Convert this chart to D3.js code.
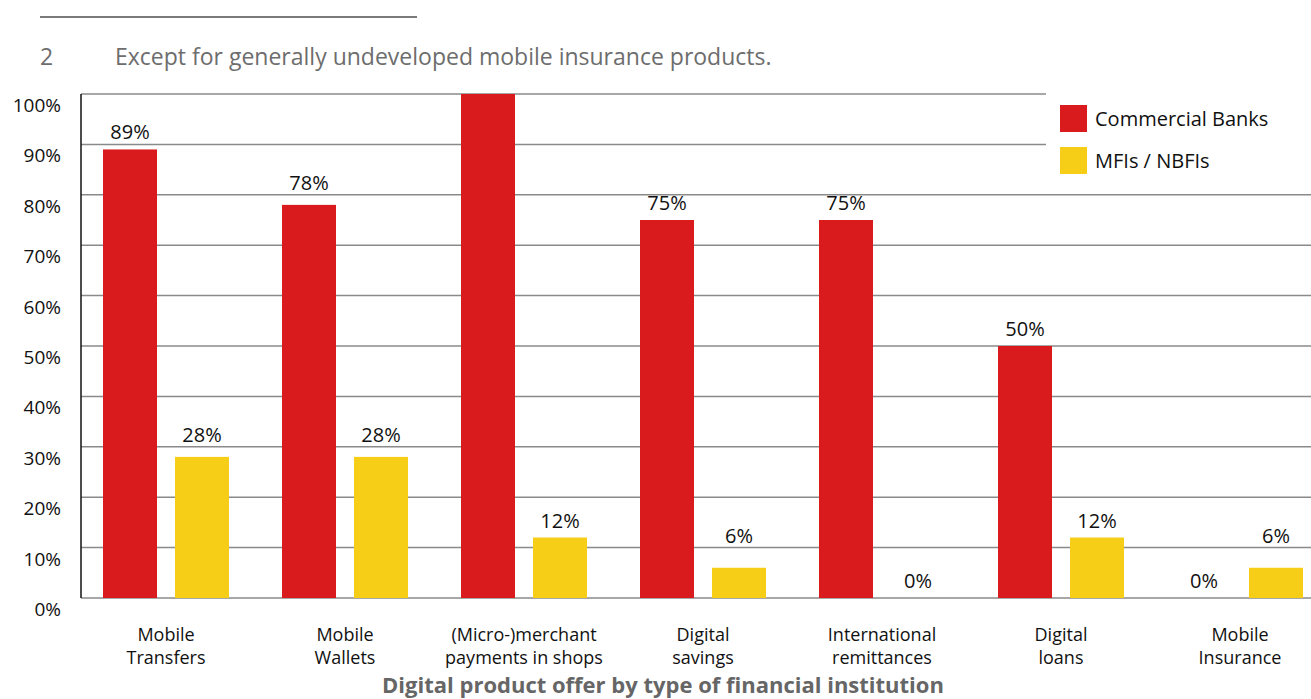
<!DOCTYPE html>
<html>
<head>
<meta charset="utf-8">
<script src="https://cdn.jsdelivr.net/npm/d3@7"></script>
<style>
  body { margin: 0; background: #fff; }
  svg { display: block; font-family: "Open Sans", sans-serif; }
</style>
</head>
<body>
<div id="chart"></div>
<script>
// categories (two-line labels) and series values in percent
var categories = [
  ["Mobile", "Transfers"],
  ["Mobile", "Wallets"],
  ["(Micro-)merchant", "payments in shops"],
  ["Digital", "savings"],
  ["International", "remittances"],
  ["Digital", "loans"],
  ["Mobile", "Insurance"]
];
var seriesNames = ["Commercial Banks", "MFIs / NBFIs"];
var banks = [89, 78, 100, 75, 75, 50, 0];
var mfis = [28, 28, 12, 6, 0, 12, 6];
var yTicks = [0, 10, 20, 30, 40, 50, 60, 70, 80, 90, 100];
var footNumber = "2";
var footText = "Except for generally undeveloped mobile insurance products.";
var chartTitle = "Digital product offer by type of financial institution";

var colors = ["#d91b1e", "#f6cd17"];
var W = 1311, H = 699;

var svg = d3.select("#chart").append("svg")
  .attr("width", W).attr("height", H);

// footnote rule and text
svg.append("line")
  .attr("x1", 40).attr("x2", 417).attr("y1", 17).attr("y2", 17)
  .style("stroke", "#7a7a7a").style("stroke-width", 2);
svg.append("text").attr("x", 40).attr("y", 65)
  .style("font-size", "23px").style("fill", "#6d6d6d").text(footNumber);
svg.append("text").attr("x", 115).attr("y", 65)
  .style("font-size", "23px").style("fill", "#6d6d6d").text(footText);

var keys = categories.map(function(c) { return c.join(" "); });
var data = keys.map(function(k, i) {
  return { key: k, lines: categories[i], values: [banks[i], mfis[i]] };
});

var x0 = d3.scaleBand().domain(keys).range([76.5, 76.5 + 179 * keys.length]);
var x1 = d3.scaleBand().domain([0, 1]).range([26.5, 152.5]).paddingInner(0.25);
var y = d3.scaleLinear().domain([0, 100]).range([598, 94]);

// gridlines
svg.append("g").selectAll("line")
  .data(yTicks)
  .enter().append("line")
  .attr("x1", 81).attr("x2", W)
  .attr("y1", function(d) { return y(d); })
  .attr("y2", function(d) { return y(d); })
  .style("stroke", "#8a8a8a").style("stroke-width", 1.5);

// y axis labels (sit a little below their gridline, like the original)
var yAxis = svg.append("g")
  .attr("transform", "translate(81,0)")
  .call(d3.axisLeft(y).tickValues(yTicks).tickSize(0).tickPadding(20)
    .tickFormat(function(d) { return d + "%"; }));
yAxis.select(".domain").remove();
yAxis.selectAll("text")
  .attr("dy", "0.92em")
  .style("font-family", "'Open Sans', sans-serif")
  .style("font-size", "19px").style("fill", "#111");

svg.append("line")
  .attr("x1", 81).attr("x2", 81).attr("y1", y(100)).attr("y2", y(0))
  .style("stroke", "#111").style("stroke-width", 1.5);

// bars
var group = svg.append("g").selectAll("g")
  .data(data)
  .enter().append("g")
  .attr("transform", function(d) { return "translate(" + x0(d.key) + ",0)"; });

group.selectAll("rect")
  .data(function(d) { return d.values; })
  .enter().append("rect")
  .attr("x", function(d, i) { return x1(i); })
  .attr("y", function(d) { return y(d); })
  .attr("width", x1.bandwidth())
  .attr("height", function(d) { return y(0) - y(d); })
  .style("fill", function(d, i) { return colors[i]; });

// label centre above a bar; lifted over a gridline when it would sit on it
function labelCenter(v) {
  var c = y(v) - 17;
  var g = y(yTicks[d3.minIndex(yTicks, function(t) { return Math.abs(y(t) - c); })]);
  if (Math.abs(c - g) < 8) c = g - 12;
  return c;
}

// value labels (the 100% one falls off the top and is not shown)
group.selectAll("text.val")
  .data(function(d) {
    return d.values.map(function(v, i) { return { v: v, s: i }; })
      .filter(function(o) { return o.v < 100; });
  })
  .enter().append("text")
  .attr("class", "val")
  .attr("x", function(d) { return x1(d.s) + x1.bandwidth() / 2; })
  .attr("y", function(d) { return labelCenter(d.v) + 7; })
  .attr("text-anchor", "middle")
  .style("font-size", "20px").style("fill", "#111")
  .text(function(d) { return d.v + "%"; });

// category labels
var cat = svg.append("g").selectAll("text")
  .data(data)
  .enter().append("text")
  .attr("x", function(d) { return x0(d.key) + x0.bandwidth() / 2; })
  .attr("y", 641)
  .attr("text-anchor", "middle")
  .style("font-size", "18px").style("fill", "#111");
cat.selectAll("tspan")
  .data(function(d) { return d.lines; })
  .enter().append("tspan")
  .attr("x", function() { return d3.select(this.parentNode).attr("x"); })
  .attr("dy", function(d, i) { return i === 0 ? 0 : 23; })
  .text(function(d) { return d; });

// chart title
svg.append("text")
  .attr("x", 663).attr("y", 693)
  .attr("text-anchor", "middle")
  .style("font-size", "22px").style("font-weight", "bold").style("fill", "#666")
  .text(chartTitle);

// legend with white backing that hides the top gridlines
var legend = svg.append("g");
legend.append("rect")
  .attr("x", 1046).attr("y", 85).attr("width", W - 1046).attr("height", 104)
  .style("fill", "#fff");
seriesNames.forEach(function(name, i) {
  legend.append("rect")
    .attr("x", 1060).attr("y", 105 + i * 42)
    .attr("width", 27).attr("height", 27)
    .style("fill", colors[i]);
  legend.append("text")
    .attr("x", 1095).attr("y", 126 + i * 42)
    .style("font-size", "20px").style("fill", "#111")
    .text(name);
});
</script>
</body>
</html>
